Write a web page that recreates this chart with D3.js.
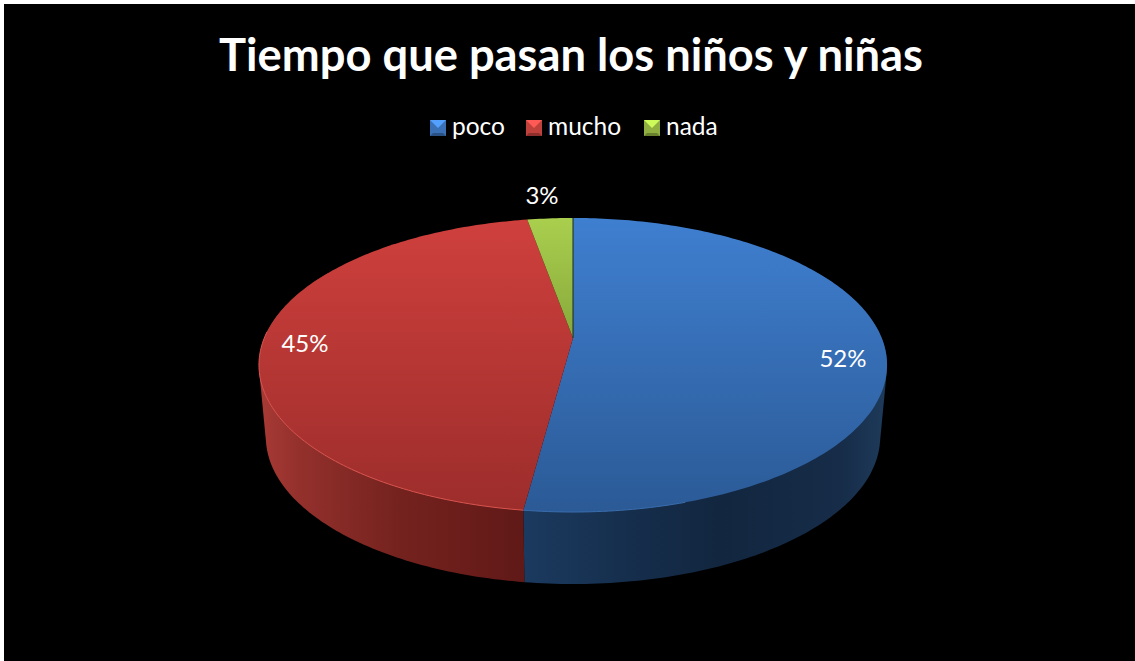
<!DOCTYPE html>
<html>
<head>
<meta charset="utf-8">
<script src="https://cdn.jsdelivr.net/npm/d3@7"></script>
<style>
    html, body { margin: 0; padding: 0; background: #fff; overflow: hidden; }
    svg { display: block; position: absolute; left: 4px; top: 4px; background: #000; }
    text { font-family: Lato, "Open Sans", sans-serif; fill: #fff; }
</style>
</head>
<body>
<div id="chart"></div>
<script>
const titleText = "Tiempo que pasan los niños y niñas";
const categories = ["poco", "mucho", "nada"];
const values = [52.1, 45.1, 2.8];
const valueLabels = ["52%", "45%", "3%"];

// top face gradient, top colour then bottom colour
const topColors = [["#3f7fd0", "#2b5a96"], ["#cf403d", "#9c2d2b"], ["#aacf4e", "#55701f"]];
const iconColors = ["#3a70b5", "#c0403c", "#8fb040"];
const labelPositions = [[843, 359], [305, 344], [542, 196]];
const legendPositions = [430, 526, 644];

// side wall colours from left to right of the screen
const blueSideStops = [[524, "#1b3a5f"], [620, "#162f4e"], [720, "#12263f"], [840, "#162c48"], [885, "#1e3a5a"]];
const redSideStops = [[260, "#a83a35"], [300, "#93302c"], [400, "#74221e"], [480, "#681c1a"], [526, "#5f1917"]];

const width = 1135, height = 661;
const offset = 4; // the white strip on top and left

const svg = d3.select("#chart").append("svg")
    .attr("width", width - offset)
    .attr("height", height - offset);
const g = svg.append("g").attr("transform", `translate(${-offset}, ${-offset})`);
const defs = svg.append("defs");

// the pie is a tilted disc, so the apex sits above the centre of the ellipse
const cx = 573, apexY = 338, persp = -0.1837, tiltA = 79.96, radius = 308.7;
const depth = 72, bottomScale = 0.978;

function project(angle, r = 1, bottom = false) {
    let u = r * Math.sin(angle), v = -r * Math.cos(angle);
    let w = 1 + persp * v;
    let x = radius * u / w, y = (apexY + tiltA * v) / w;
    if (bottom) return [cx + x * bottomScale, y + depth];
    return [cx + x, y];
}

const arcs = d3.pie().sort(null).value(d => d)(values);
const line = d3.line();

function rim(a0, a1, bottom = false) {
    let n = Math.max(2, Math.ceil(Math.abs(a1 - a0) * 60));
    return d3.range(n + 1).map(i => project(a0 + (a1 - a0) * i / n, 1, bottom));
}

function sideGradient(id, stops) {
    let x0 = stops[0][0], x1 = stops[stops.length - 1][0];
    let grad = defs.append("linearGradient")
        .attr("id", id)
        .attr("gradientUnits", "userSpaceOnUse")
        .attr("x1", x0).attr("x2", x1)
        .attr("y1", 0).attr("y2", 0);
    stops.forEach(s => {
        grad.append("stop")
            .attr("offset", (s[0] - x0) / (x1 - x0))
            .attr("stop-color", s[1]);
    });
}
sideGradient("side-0", blueSideStops);
sideGradient("side-1", redSideStops);

// side wall, hull of the two rims so the silhouette stays straight at the ends
const deg = Math.PI / 180;
const sideRanges = [[60 * deg, arcs[0].endAngle], [arcs[1].startAngle, 300 * deg]];
g.append("g").selectAll("path")
    .data(sideRanges)
    .enter()
    .append("path")
    .attr("d", d => line(d3.polygonHull([...rim(d[0], d[1]), ...rim(d[0], d[1], true)])) + "Z")
    .attr("fill", (d, i) => `url(#side-${i})`);

// top face
topColors.forEach((c, i) => {
    let grad = defs.append("linearGradient")
        .attr("id", `top-${i}`)
        .attr("gradientUnits", "userSpaceOnUse")
        .attr("x1", 0).attr("x2", 0)
        .attr("y1", 218).attr("y2", 512);
    grad.append("stop").attr("offset", 0).attr("stop-color", c[0]);
    grad.append("stop").attr("offset", 1).attr("stop-color", c[1]);
});

g.append("g").selectAll("path")
    .data(arcs)
    .enter()
    .append("path")
    .attr("d", d => line([project(0, 0), ...rim(d.startAngle, d.endAngle)]) + "Z")
    .attr("fill", d => `url(#top-${d.index})`);

// light edge on the front of the rim
g.append("path")
    .attr("d", line(rim(arcs[0].endAngle - 25 * deg, arcs[0].endAngle)))
    .attr("fill", "none")
    .attr("stroke", "#3a6dad")
    .attr("stroke-width", 1);
g.append("path")
    .attr("d", line(rim(arcs[1].startAngle, arcs[1].startAngle + 85 * deg)))
    .attr("fill", "none")
    .attr("stroke", "#d9544f")
    .attr("stroke-width", 1);

// dark seam between nada and poco
g.append("path")
    .attr("d", line([project(0, 0), project(0)]))
    .attr("stroke", "#1c2a10")
    .attr("stroke-width", 1);

// title
g.append("text")
    .attr("x", 571)
    .attr("y", 71)
    .attr("text-anchor", "middle")
    .attr("font-size", 45.3)
    .attr("font-weight", 700)
    .text(titleText);

// legend
const legend = g.append("g").selectAll("g")
    .data(categories)
    .enter()
    .append("g")
    .attr("transform", (d, i) => `translate(${legendPositions[i]}, 120)`);

const iconSize = 16;
legend.append("rect")
    .attr("width", iconSize)
    .attr("height", iconSize)
    .attr("fill", (d, i) => iconColors[i]);
legend.append("path")
    .attr("d", `M0,0H${iconSize}L${iconSize / 2},${iconSize * 0.5}Z`)
    .attr("fill", (d, i) => d3.color(iconColors[i]).brighter(1));
legend.append("path")
    .attr("d", `M0,${iconSize}H${iconSize}L${iconSize - 3},${iconSize - 3}H3Z`)
    .attr("fill", (d, i) => d3.color(iconColors[i]).darker(0.9));
legend.append("text")
    .attr("x", 22)
    .attr("y", 15)
    .attr("font-size", 24.5)
    .text(d => d);

// value labels
g.append("g").selectAll("text")
    .data(valueLabels)
    .enter()
    .append("text")
    .attr("x", (d, i) => labelPositions[i][0])
    .attr("y", (d, i) => labelPositions[i][1])
    .attr("dy", "0.35em")
    .attr("text-anchor", "middle")
    .attr("font-size", 24)
    .text(d => d);
</script>
</body>
</html>
